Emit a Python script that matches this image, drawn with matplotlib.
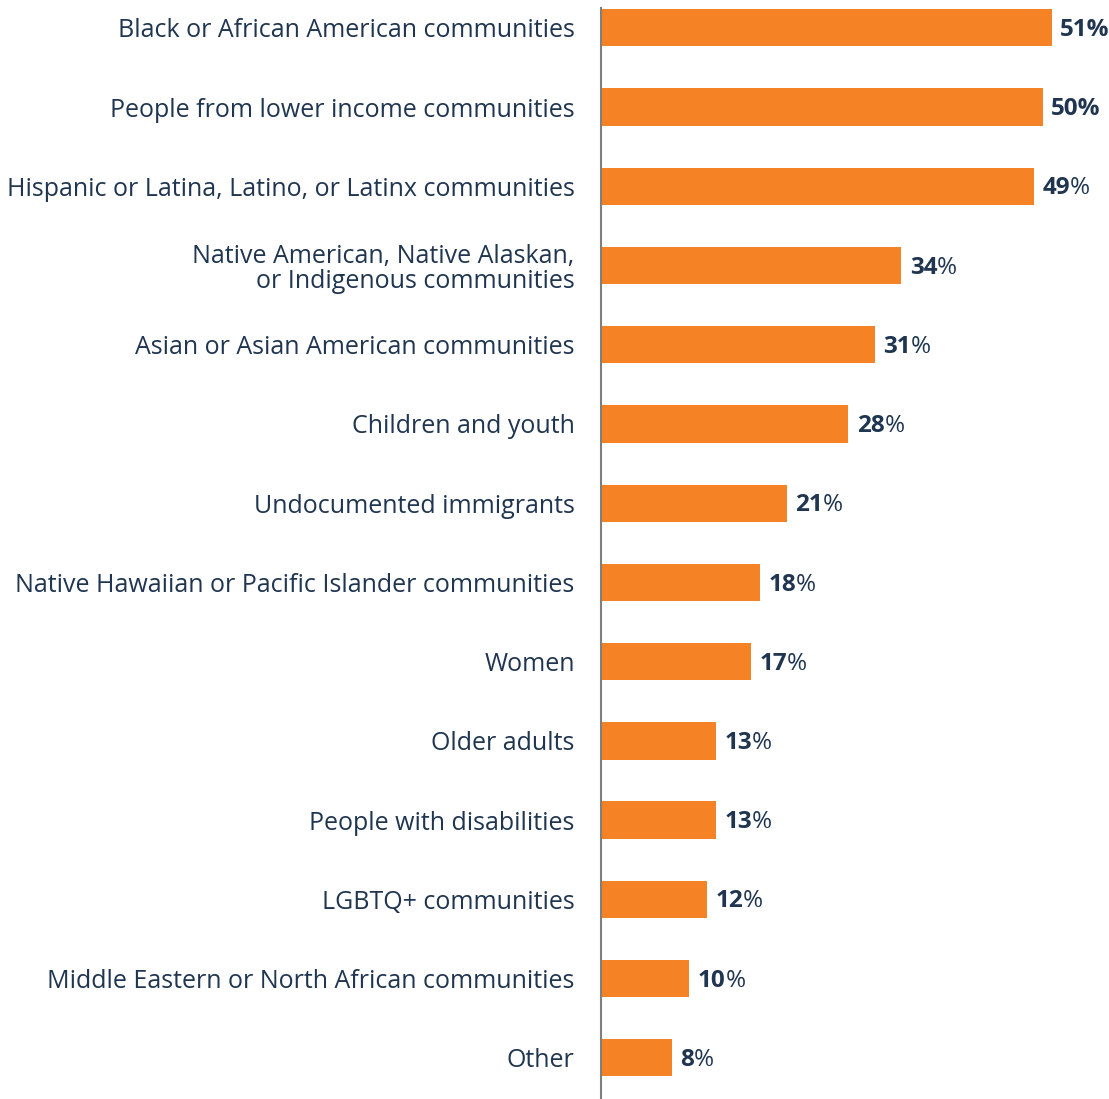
import matplotlib.pyplot as plt
import numpy as np

categories = [
    'Black or African American communities',
    'People from lower income communities',
    'Hispanic or Latina, Latino, or Latinx communities',
    'Native American, Native Alaskan,\nor Indigenous communities',
    'Asian or Asian American communities',
    'Children and youth',
    'Undocumented immigrants',
    'Native Hawaiian or Pacific Islander communities',
    'Women',
    'Older adults',
    'People with disabilities',
    'LGBTQ+ communities',
    'Middle Eastern or North African communities',
    'Other',
]
values = [51, 50, 49, 34, 31, 28, 21, 18, 17, 13, 13, 12, 10, 8]
# first two value labels are fully bold in the original
full_bold = [True, True] + [False] * 12

bar_color = '#F58224'
text_color = '#1F3550'

plt.rcParams['font.family'] = ['Open Sans', 'DejaVu Sans']

fig = plt.figure(figsize=(11.09, 10.99), dpi=100)
ax = fig.add_axes([0.542, 0.0, 0.458, 0.9927])

y = np.arange(len(categories))
ax.barh(y, values, height=0.47, color=bar_color)
ax.set_xlim(0, 57.5)
ax.set_ylim(13.52, -0.25)

for spine in ['top', 'right', 'bottom']:
    ax.spines[spine].set_visible(False)
ax.spines['left'].set_color('#7F7F7F')
ax.spines['left'].set_linewidth(1.5)
ax.set_xticks([])
ax.set_yticks(y)
ax.set_yticklabels(categories, fontsize=18, color=text_color, linespacing=1.0)
ax.tick_params(axis='y', length=0, pad=19)

for i, v in enumerate(values):
    if full_bold[i]:
        ax.annotate(f'{v}%', xy=(v, i), xytext=(6, -1.5), textcoords='offset points',
                    ha='left', va='center', fontsize=17.5, fontweight='bold', color=text_color)
    else:
        t = ax.annotate(f'{v}', xy=(v, i), xytext=(6, -1.5), textcoords='offset points',
                        ha='left', va='center', fontsize=17.5, fontweight='bold', color=text_color)
        ax.annotate('%', xy=(1, 0.5), xycoords=t, xytext=(0, 0), textcoords='offset points',
                    ha='left', va='center', fontsize=17.5, color=text_color)

fig.savefig('out.png', dpi=100)
